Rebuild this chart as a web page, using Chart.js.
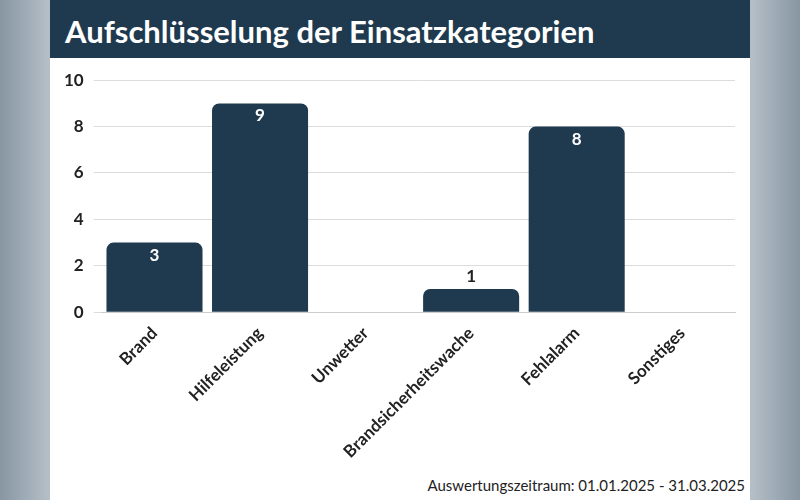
<!DOCTYPE html>
<html><head><meta charset="utf-8">
<script src="https://cdn.jsdelivr.net/npm/chart.js@4"></script>
<style>
  body { margin:0; width:800px; height:500px; overflow:hidden;
         background: linear-gradient(90deg,#8796a3 0%,#b4bec6 6%,#b4bec6 94%,#8796a3 100%); font-family:Lato, sans-serif; }
  #panel { position:absolute; left:50px; top:0; width:700px; height:500px; background:#fff; }
  #head { height:58px; background:#1f3a4f; color:#fff; font-weight:bold; font-size:31px; line-height:62px; padding-left:15px; }
  #wrap { position:absolute; left:0; top:60px; width:700px; height:405px; }
  #foot { position:absolute; right:5px; bottom:6px; font-size:15px; color:#222; }
</style></head>
<body>
<div id="panel">
  <div id="head">Aufschlüsselung der Einsatzkategorien</div>
  <div id="wrap"><canvas id="c"></canvas></div>
  <div id="foot">Auswertungszeitraum: 01.01.2025 - 31.03.2025</div>
</div>
<script>
const categories = ['Brand', 'Hilfeleistung', 'Unwetter', 'Brandsicherheitswache', 'Fehlalarm', 'Sonstiges'];
const counts = [3, 9, 0, 1, 8, 0];
const yTicks = [0, 2, 4, 6, 8, 10];

const valueLabels = {
  id: 'valueLabels',
  afterDatasetsDraw(chart) {
    const ctx = chart.ctx;
    chart.getDatasetMeta(0).data.forEach((bar, i) => {
      const v = counts[i];
      if (!v) return;
      ctx.save();
      ctx.font = 'bold 17px Lato';
      ctx.textAlign = 'center';
      if (v >= 2) { ctx.fillStyle = '#fff'; ctx.textBaseline = 'top'; ctx.fillText(v, bar.x, bar.y + 4); }
      else { ctx.fillStyle = '#222'; ctx.textBaseline = 'bottom'; ctx.fillText(v, bar.x, bar.y - 4); }
      ctx.restore();
    });
  }
};

new Chart(document.getElementById('c'), {
  type: 'bar',
  data: { labels: categories, datasets: [{ data: counts, backgroundColor: '#1f3a4f',
    borderRadius: { topLeft: 7, topRight: 7 }, borderSkipped: 'bottom', barPercentage: 0.91, categoryPercentage: 1 }] },
  options: {
    responsive: true, maintainAspectRatio: false, animation: false,
    layout: { padding: { left: 4, right: 15, top: 14 } },
    plugins: { legend: { display: false }, tooltip: { enabled: false } },
    scales: {
      x: { grid: { display: false }, border: { color: '#ccc' },
           ticks: { color: '#222', font: { family: 'Lato', weight: 'bold', size: 17 }, maxRotation: 45, minRotation: 45 } },
      y: { min: 0, max: 10, afterBuildTicks: s => { s.ticks = yTicks.map(v => ({ value: v })); },
           grid: { color: '#dcdcdc' }, border: { display: false },
           ticks: { color: '#222', padding: 10, font: { family: 'Lato', weight: 'bold', size: 17 } } }
    }
  },
  plugins: [valueLabels]
});
</script>
</body></html>
